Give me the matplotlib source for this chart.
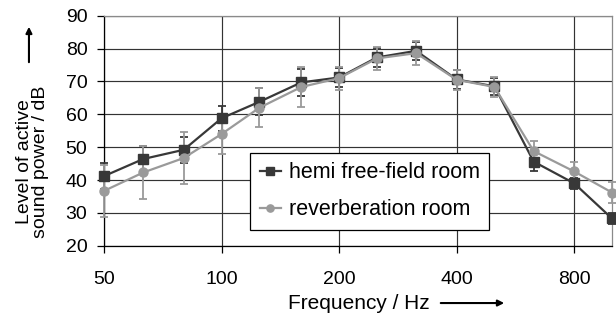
import matplotlib
matplotlib.use("Agg")
import matplotlib.pyplot as plt

plt.rcParams['font.family'] = ['Liberation Sans', 'DejaVu Sans']

# third-octave band centre frequencies / Hz
freq = [50, 63, 80, 100, 125, 160, 200, 250, 315, 400, 500, 630, 800, 1000]
# hemi free-field room
hemi = [41.2, 46.4, 49.2, 58.8, 63.8, 69.7, 71.2, 77.3, 79.3, 70.6, 68.5, 45.6, 39.0, 28.3]
hemi_err = [4.0, 4.0, 4.0, 3.8, 4.1, 4.2, 3.0, 3.0, 2.8, 3.0, 2.6, 3.0, 1.6, 1.6]
# reverberation room
rev = [36.7, 42.3, 46.7, 54.0, 62.0, 68.3, 71.0, 77.0, 78.6, 70.5, 68.3, 48.8, 42.6, 36.2]
rev_err = [8.0, 8.0, 8.0, 6.2, 6.0, 6.0, 3.5, 3.5, 3.6, 3.0, 3.0, 3.0, 3.0, 3.3]

xticks = [50, 100, 200, 400, 800]
yticks = [20, 30, 40, 50, 60, 70, 80, 90]

dark = '#383838'
grey = '#9a9a9a'
gridc = '#333333'

fig = plt.figure(figsize=(6.16, 3.2), dpi=100)
ax = fig.add_axes([0.169, 0.232, 0.8245, 0.719])

ax.set_xscale('log')
ax.set_xlim(50, 1000)
ax.set_ylim(20, 90)

# error bars
ax.errorbar(freq, hemi, yerr=hemi_err, fmt='none', ecolor=dark,
            elinewidth=1.3, capsize=3, capthick=1.3, clip_on=False, zorder=3)
ax.errorbar(freq, rev, yerr=rev_err, fmt='none', ecolor=grey,
            elinewidth=1.3, capsize=3, capthick=1.3, clip_on=False, zorder=4)
# lines + markers
ax.plot(freq, hemi, color=dark, marker='s', ms=6.5, lw=1.6,
        label='hemi free-field room', clip_on=False, zorder=5)
ax.plot(freq, rev, color=grey, marker='o', ms=6.5, lw=1.6,
        label='reverberation room', clip_on=False, zorder=6)

ax.set_xticks(xticks)
ax.set_xticklabels([str(t) for t in xticks])
ax.minorticks_off()
ax.set_yticks(yticks)
ax.tick_params(axis='both', labelsize=14, color='black', length=5, width=0.9)
ax.tick_params(axis='x', pad=13)
ax.tick_params(axis='y', pad=7)

ax.grid(True, color=gridc, lw=0.85)
ax.set_axisbelow(True)
for s in ['top', 'right']:
    ax.spines[s].set_color('#8a8a8a')
    ax.spines[s].set_linewidth(0.9)
for s in ['left', 'bottom']:
    ax.spines[s].set_color('black')
    ax.spines[s].set_linewidth(0.9)

leg = ax.legend(loc='lower left', bbox_to_anchor=(0.287, 0.068), fontsize=15.5,
                frameon=True, fancybox=False, edgecolor='black', framealpha=1,
                handlelength=1.0, handletextpad=0.35, labelspacing=0.75,
                borderpad=0.45, borderaxespad=0, markerscale=0.8)
leg.get_frame().set_linewidth(0.9)

# axis labels with arrows
fig.text(0.053, 0.494, 'Level of active\nsound power / dB', rotation=90,
         ha='center', va='center', fontsize=14, linespacing=0.9)
ax.annotate('', xy=(0.047, 0.925), xytext=(0.047, 0.797), xycoords='figure fraction',
            arrowprops=dict(arrowstyle='-|>', color='black', lw=1.5, mutation_scale=9))
fig.text(0.697, 0.053, 'Frequency / Hz', ha='right', va='center', fontsize=15)
ax.annotate('', xy=(0.823, 0.053), xytext=(0.711, 0.053), xycoords='figure fraction',
            arrowprops=dict(arrowstyle='-|>', color='black', lw=1.5, mutation_scale=9))

fig.savefig('out.png', dpi=100)
